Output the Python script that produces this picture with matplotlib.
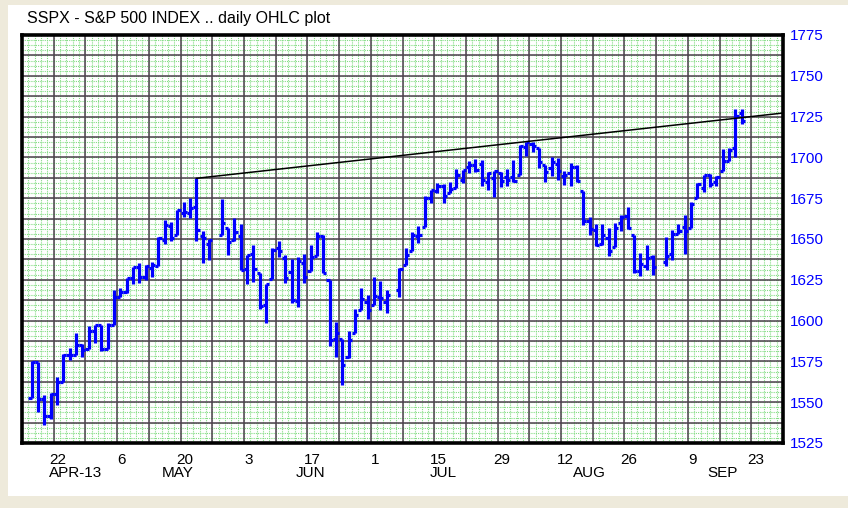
import numpy as np
import matplotlib
matplotlib.use('Agg')
import matplotlib.pyplot as plt
import matplotlib.transforms as mtransforms
from matplotlib.collections import LineCollection
from matplotlib.patches import Rectangle

# daily OHLC values (S&P 500, Apr 16 - Sep 19 2013)
dates = ['2013-04-16', '2013-04-17', '2013-04-18', '2013-04-19',
         '2013-04-22', '2013-04-23', '2013-04-24', '2013-04-25', '2013-04-26',
         '2013-04-29', '2013-04-30', '2013-05-01', '2013-05-02', '2013-05-03',
         '2013-05-06', '2013-05-07', '2013-05-08', '2013-05-09', '2013-05-10',
         '2013-05-13', '2013-05-14', '2013-05-15', '2013-05-16', '2013-05-17',
         '2013-05-20', '2013-05-21', '2013-05-22', '2013-05-23', '2013-05-24',
         '2013-05-28', '2013-05-29', '2013-05-30', '2013-05-31',
         '2013-06-03', '2013-06-04', '2013-06-05', '2013-06-06', '2013-06-07',
         '2013-06-10', '2013-06-11', '2013-06-12', '2013-06-13', '2013-06-14',
         '2013-06-17', '2013-06-18', '2013-06-19', '2013-06-20', '2013-06-21',
         '2013-06-24', '2013-06-25', '2013-06-26', '2013-06-27', '2013-06-28',
         '2013-07-01', '2013-07-02', '2013-07-03', '2013-07-05',
         '2013-07-08', '2013-07-09', '2013-07-10', '2013-07-11', '2013-07-12',
         '2013-07-15', '2013-07-16', '2013-07-17', '2013-07-18', '2013-07-19',
         '2013-07-22', '2013-07-23', '2013-07-24', '2013-07-25', '2013-07-26',
         '2013-07-29', '2013-07-30', '2013-07-31', '2013-08-01', '2013-08-02',
         '2013-08-05', '2013-08-06', '2013-08-07', '2013-08-08', '2013-08-09',
         '2013-08-12', '2013-08-13', '2013-08-14', '2013-08-15', '2013-08-16',
         '2013-08-19', '2013-08-20', '2013-08-21', '2013-08-22', '2013-08-23',
         '2013-08-26', '2013-08-27', '2013-08-28', '2013-08-29', '2013-08-30',
         '2013-09-03', '2013-09-04', '2013-09-05', '2013-09-06',
         '2013-09-09', '2013-09-10', '2013-09-11', '2013-09-12', '2013-09-13',
         '2013-09-16', '2013-09-17', '2013-09-18', '2013-09-19']

opens = [1552.36, 1574.57, 1552.03, 1541.61,
         1555.25, 1562.50, 1578.78, 1578.78, 1585.16,
         1582.34, 1593.58, 1597.55, 1582.77, 1597.60,
         1614.40, 1617.55, 1625.95, 1632.69, 1626.69,
         1632.10, 1633.75, 1649.13, 1658.07, 1652.45,
         1665.71, 1666.20, 1669.39, 1651.62, 1646.67,
         1652.63, 1656.57, 1649.14, 1652.13,
         1631.71, 1640.73, 1629.05, 1609.29, 1625.27,
         1644.67, 1638.64, 1629.94, 1612.15, 1635.52,
         1630.64, 1639.77, 1651.83, 1624.62, 1588.62,
         1588.77, 1577.52, 1592.27, 1606.44, 1611.12,
         1609.78, 1614.29, 1611.48, 1618.65,
         1634.20, 1642.89, 1651.56, 1657.41, 1675.26,
         1679.59, 1682.70, 1677.91, 1681.05, 1686.15,
         1694.41, 1695.53, 1696.06, 1685.21, 1687.31,
         1690.32, 1687.92, 1687.76, 1689.42, 1706.10,
         1708.01, 1705.79, 1695.30, 1693.35, 1696.10,
         1688.37, 1690.65, 1693.88, 1679.61, 1661.22,
         1655.25, 1646.81, 1650.66, 1645.03, 1659.92,
         1664.29, 1652.54, 1630.25, 1633.50, 1638.89,
         1635.95, 1640.72, 1653.28, 1657.44,
         1656.85, 1675.11, 1681.04, 1689.21, 1685.04,
         1691.70, 1697.73, 1705.74, 1727.34]

highs = [1575.35, 1574.57, 1554.38, 1555.89,
         1565.55, 1579.58, 1583.00, 1592.64, 1585.78,
         1596.65, 1597.57, 1597.55, 1598.60, 1618.46,
         1619.77, 1626.03, 1632.78, 1635.01, 1634.10,
         1636.00, 1651.10, 1661.49, 1660.51, 1667.47,
         1672.84, 1674.93, 1687.18, 1655.03, 1649.78,
         1674.21, 1656.57, 1662.66, 1658.99,
         1640.42, 1646.53, 1629.31, 1622.56, 1644.40,
         1648.69, 1640.13, 1637.71, 1639.25, 1640.80,
         1646.50, 1654.19, 1652.45, 1624.62, 1599.19,
         1588.77, 1593.79, 1606.83, 1620.07, 1615.94,
         1626.61, 1624.26, 1618.97, 1632.07,
         1644.68, 1654.18, 1657.92, 1676.63, 1680.19,
         1684.51, 1683.73, 1684.75, 1693.12, 1692.09,
         1697.61, 1698.78, 1698.38, 1690.94, 1691.85,
         1690.92, 1693.19, 1698.43, 1707.85, 1709.67,
         1709.24, 1705.79, 1695.30, 1700.18, 1699.42,
         1691.49, 1696.81, 1695.52, 1679.61, 1663.60,
         1659.18, 1658.92, 1656.99, 1659.55, 1664.85,
         1669.51, 1652.54, 1641.18, 1646.41, 1640.08,
         1651.35, 1655.72, 1659.17, 1664.83,
         1672.40, 1684.09, 1689.13, 1689.97, 1688.73,
         1704.95, 1705.52, 1729.44, 1729.86]

lows = [1552.36, 1543.69, 1536.03, 1539.40,
        1548.19, 1562.50, 1575.80, 1578.78, 1577.56,
        1582.34, 1586.50, 1581.28, 1582.77, 1597.60,
        1614.21, 1616.64, 1622.70, 1623.09, 1625.14,
        1626.74, 1633.75, 1646.68, 1648.60, 1652.45,
        1663.52, 1662.67, 1648.86, 1635.53, 1636.88,
        1652.63, 1640.05, 1648.71, 1630.74,
        1622.72, 1623.62, 1607.09, 1598.23, 1625.27,
        1639.26, 1622.92, 1610.92, 1608.07, 1622.92,
        1630.34, 1639.77, 1628.91, 1584.32, 1577.70,
        1560.33, 1577.09, 1592.27, 1606.44, 1601.06,
        1609.78, 1606.77, 1604.57, 1614.71,
        1634.20, 1642.89, 1647.66, 1657.41, 1672.33,
        1677.89, 1671.84, 1677.91, 1681.05, 1684.08,
        1690.67, 1691.13, 1682.57, 1680.07, 1676.03,
        1681.86, 1682.42, 1684.94, 1689.42, 1700.68,
        1703.55, 1693.29, 1684.91, 1688.38, 1686.02,
        1683.35, 1682.62, 1684.83, 1658.59, 1652.61,
        1645.84, 1646.08, 1639.43, 1645.03, 1654.81,
        1656.02, 1629.05, 1627.47, 1630.88, 1628.05,
        1633.41, 1637.41, 1653.07, 1640.62,
        1656.85, 1675.11, 1678.70, 1681.96, 1682.22,
        1691.70, 1697.73, 1700.35, 1720.20]

closes = [1574.57, 1552.01, 1541.61, 1555.25,
          1562.50, 1578.78, 1578.79, 1585.16, 1582.24,
          1593.61, 1597.57, 1582.70, 1597.59, 1614.42,
          1617.50, 1625.96, 1632.69, 1626.67, 1633.70,
          1633.77, 1650.34, 1658.78, 1650.47, 1667.47,
          1666.29, 1669.16, 1655.35, 1650.51, 1649.60,
          1660.06, 1648.36, 1654.41, 1630.74,
          1640.42, 1631.38, 1608.90, 1622.56, 1643.38,
          1642.81, 1626.13, 1612.52, 1636.36, 1626.73,
          1639.04, 1651.81, 1628.93, 1588.19, 1592.43,
          1573.09, 1588.03, 1603.26, 1613.20, 1606.28,
          1614.96, 1614.08, 1615.41, 1631.89,
          1640.46, 1652.32, 1652.62, 1675.02, 1680.19,
          1682.50, 1676.26, 1680.91, 1689.37, 1692.09,
          1695.53, 1692.39, 1685.94, 1690.25, 1691.65,
          1685.33, 1685.96, 1685.73, 1706.87, 1709.67,
          1707.14, 1697.37, 1690.91, 1697.48, 1691.42,
          1689.47, 1694.16, 1685.39, 1661.32, 1655.83,
          1646.06, 1652.35, 1642.80, 1656.96, 1663.50,
          1656.78, 1630.48, 1634.96, 1638.17, 1632.97,
          1639.77, 1653.08, 1655.08, 1655.17,
          1671.71, 1683.99, 1689.13, 1683.42, 1687.99,
          1697.60, 1704.76, 1725.52, 1722.34]

# resistance line drawn through two highs
trend_dates = ['2013-05-22', '2013-08-02']
trend_vals = [1687.18, 1709.67]

tick_dates = ['2013-04-22', '2013-05-06', '2013-05-20', '2013-06-03',
              '2013-06-17', '2013-07-01', '2013-07-15', '2013-07-29',
              '2013-08-12', '2013-08-26', '2013-09-09', '2013-09-23']
tick_labels = ['22', '6', '20', '3', '17', '1', '15', '29', '12', '26', '9', '23']
month_labels = ['APR-13', 'MAY', 'JUN', 'JUL', 'AUG', 'SEP']
month_dates = ['2013-04-25', '2013-05-17', '2013-06-17', '2013-07-16',
               '2013-08-16', '2013-09-16']
y_ticks = [1525, 1550, 1575, 1600, 1625, 1650, 1675, 1700, 1725, 1750, 1775]

START = '2013-04-15'   # Monday, first column of the weekday axis
XMIN, XMAX = -0.5, 119.5
BLUE = '#0000ff'
FONT = ['Liberation Sans', 'DejaVu Sans']


def wd(d):
    # weekday index counted from START, holidays keep their slot
    return np.busday_count(START, np.array(d, dtype='datetime64[D]'))


fig = plt.figure(figsize=(8.48, 5.08), dpi=100)
fig.patch.set_facecolor('#eeeadb')
fig.patches.append(Rectangle((8 / 848, 12 / 508), 840 / 848, 491 / 508,
                             transform=fig.transFigure, facecolor='white',
                             edgecolor='none', zorder=-10))

ax = fig.add_axes([22 / 848, 65 / 508, 761 / 848, 408 / 508])
ax.set_xlim(XMIN, XMAX)
ax.set_ylim(1525, 1775)

# fine green grid: one line per day, four per 12.5 points
for xv in np.arange(XMIN, XMAX, 1.0):
    ax.axvline(xv, color='#82dc82', lw=0.8, ls=(0, (1, 1)), zorder=1)
for yv in np.arange(1525, 1775, 3.125):
    ax.axhline(yv, color='#82dc82', lw=0.8, ls=(0, (1, 1)), zorder=1)
# dark grid: weekly columns, 12.5 point rows
for xv in np.arange(XMIN + 5, XMAX, 5.0):
    ax.axvline(xv, color='#4e404e', lw=1.1, zorder=2)
for yv in np.arange(1537.5, 1775, 12.5):
    ax.axhline(yv, color='#4e404e', lw=1.1, zorder=2)

# OHLC bars
x = wd(dates)
hw = 0.5
segs = []
for xi, o, h, l, c in zip(x, opens, highs, lows, closes):
    segs.append([(xi, l), (xi, h)])
    segs.append([(xi - hw, o), (xi, o)])
    segs.append([(xi, c), (xi + hw, c)])
ax.add_collection(LineCollection(segs, colors=BLUE, linewidths=2.3,
                                 capstyle='butt', zorder=4))

# trend line extended to the right edge
tx = wd(trend_dates)
slope = (trend_vals[1] - trend_vals[0]) / (tx[1] - tx[0])
ax.plot([tx[0], XMAX], [trend_vals[0], trend_vals[0] + slope * (XMAX - tx[0])],
        color='black', lw=1.1, zorder=5)

for s in ax.spines.values():
    s.set_linewidth(2.6)
    s.set_color('black')

ax.yaxis.tick_right()
ax.set_yticks(y_ticks)
ax.set_yticklabels([str(v) for v in y_ticks], color=BLUE, family=FONT, fontsize=11)
ax.tick_params(axis='y', length=0, pad=5)

ax.set_xticks(wd(tick_dates) + 0.2)
ax.set_xticklabels(tick_labels, family=FONT, fontsize=11)
ax.tick_params(axis='x', length=0, pad=7)

trans = mtransforms.blended_transform_factory(ax.transData, fig.transFigure)
for lab, d in zip(month_labels, month_dates):
    ax.text(wd(d), 1 - 473 / 508, lab, transform=trans, ha='center', va='center',
            fontsize=11, family=FONT)

fig.text(27 / 848, 1 - 18 / 508, 'SSPX - S&P 500 INDEX .. daily OHLC plot',
         ha='left', va='center', fontsize=11.5, family=FONT)

fig.savefig('out.png', dpi=100, facecolor=fig.get_facecolor())
